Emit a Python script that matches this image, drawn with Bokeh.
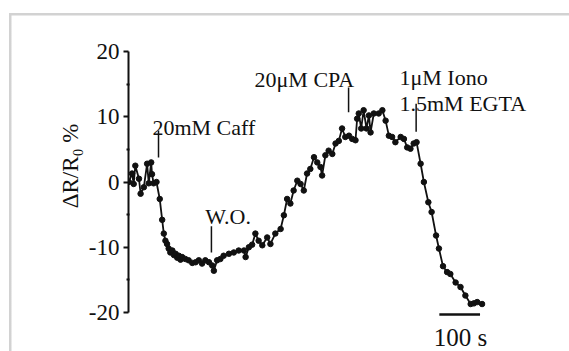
from bokeh.plotting import figure
from bokeh.models import Range1d, FixedTicker, Label, ColumnDataSource
from bokeh.embed import file_html
from bokeh.resources import INLINE

# ---- data (time in s, ΔR/R0 in %) ----
time_s = [0, 8, 12, 16, 25, 29, 37, 45, 49, 55, 57, 61, 68, 76, 82, 86, 90, 94, 98, 102,
          107, 111, 115, 119, 123, 127, 131, 139, 147, 156, 164, 172, 180, 188, 197, 205,
          209, 217, 225, 233, 246, 258, 270, 283, 287, 295, 303, 311, 319, 328, 340, 348,
          360, 373, 381, 389, 397, 405, 414, 422, 430, 438, 446, 455, 463, 471, 475, 483,
          491, 500, 508, 516, 524, 532, 541, 549, 557, 561, 565, 571, 577, 584, 590, 594,
          602, 614, 623, 631, 639, 647, 655, 668, 676, 684, 692, 700, 707, 717, 725, 736,
          744, 755, 762, 772, 782, 790, 803, 815, 827, 840, 848, 856, 868]
ratio_pct = [0.0, 1.3, -0.3, 2.5, 0.5, -1.8, -0.8, 2.8, -0.2, 3.0, 1.2, -0.2, 0.0, -2.6,
             -5.8, -7.9, -9.0, -9.5, -10.2, -10.8, -10.5, -11.2, -11.0, -11.6, -11.3, -11.9,
             -11.5, -11.8, -12.0, -12.4, -12.3, -12.0, -12.5, -12.0, -12.3, -12.8, -13.6,
             -12.0, -11.8, -11.3, -11.0, -10.8, -10.5, -10.5, -11.5, -10.0, -9.6, -7.9, -9.0,
             -9.7, -8.5, -9.5, -7.9, -7.2, -5.1, -2.6, -3.3, -1.3, 0.2, -0.3, -1.3, 1.3, 2.0,
             3.8, 3.0, 2.3, 1.0, 4.1, 4.8, 4.3, 5.9, 6.3, 8.2, 6.9, 7.1, 6.6, 6.4, 9.7, 10.5,
             8.2, 11.0, 8.2, 10.2, 7.6, 10.5, 10.5, 11.0, 9.4, 7.1, 6.9, 6.1, 6.9, 6.6, 5.3,
             5.1, 5.9, 6.1, 2.8, 0.0, -3.1, -4.6, -8.2, -10.2, -12.9, -13.8, -14.1, -15.4,
             -16.1, -17.4, -18.7, -18.6, -18.4, -18.7]

y_ticks = [-20, -10, 0, 10, 20]
y_tick_labels = ["-20", "-10", "0", "10", "20"]
y_minor_ticks = [-15, -5, 5, 15]
y_label = "ΔR/R₀ %"

event_labels = ["20mM Caff", "W.O.", "20μM CPA", "1μM Iono", "1.5mM EGTA"]
event_label_t = [58, 188, 309, 665, 665]
event_label_v = [8.35, -5.3, 15.7, 16.0, 12.0]

arrow_t = [73, 203, 540, 706]
arrow_top = [7.9, -6.8, 14.5, 12.0]
arrow_bottom = [3.75, -10.8, 10.7, 7.7]

scale_bar_t = [763, 863]
scale_bar_v = -20.3
scale_bar_label = "100 s"

FONT = "Liberation Serif"
INK = "#111111"
FRAME = "#d2d2d2"

p = figure(width=569, height=351, output_backend="svg", toolbar_location=None,
           x_range=Range1d(-0.74, 1082.8), y_range=Range1d(-25.67, 20.92),
           x_axis_location=None, y_axis_location="left",
           min_border_left=128, min_border_right=0, min_border_top=45, min_border_bottom=2)
p.grid.visible = False
p.outline_line_color = None
p.background_fill_color = None
p.border_fill_color = None
# light outer frame of the original figure, drawn behind the transparent canvas
p.styles = {
    "background-color": "white",
    "background-image": f"linear-gradient({FRAME},{FRAME}), linear-gradient({FRAME},{FRAME})",
    "background-repeat": "no-repeat",
    "background-position": "9px 13px, 9px 13px",
    "background-size": "100% 2.5px, 2.5px 100%",
}

ax = p.yaxis[0]
ax.ticker = FixedTicker(ticks=y_ticks, minor_ticks=y_minor_ticks)
ax.major_label_overrides = {t: s for t, s in zip(y_ticks, y_tick_labels)}
ax.bounds = (-20, 20)
ax.axis_line_color = INK
ax.axis_line_width = 2
ax.major_tick_line_color = INK
ax.major_tick_line_width = 2
ax.major_tick_out = 5
ax.major_tick_in = 0
ax.minor_tick_line_color = INK
ax.minor_tick_line_width = 2
ax.minor_tick_out = 2
ax.minor_tick_in = 1
ax.major_label_text_font = FONT
ax.major_label_text_font_size = "23px"
ax.major_label_text_color = INK
ax.major_label_standoff = 4
# non-breaking spaces at the start lift the label to where the original sits
ax.axis_label = "\u00a0" * 11 + y_label
ax.axis_label_text_font = FONT
ax.axis_label_text_font_size = "23px"
ax.axis_label_text_font_style = "normal"
ax.axis_label_text_color = INK
ax.axis_label_standoff = 3

src = ColumnDataSource(dict(t=time_s, v=ratio_pct))
p.line("t", "v", source=src, line_color=INK, line_width=1.8)
p.scatter("t", "v", source=src, size=5.5, color=INK)

asrc = ColumnDataSource(dict(t=arrow_t, top=arrow_top, bot=arrow_bottom))
p.segment(x0="t", y0="top", x1="t", y1="bot", source=asrc, line_color=INK, line_width=1.5)

p.segment(x0=[scale_bar_t[0]], y0=[scale_bar_v], x1=[scale_bar_t[1]], y1=[scale_bar_v],
          line_color=INK, line_width=2.5)

for txt, tx, vy in zip(event_labels, event_label_t, event_label_v):
    p.add_layout(Label(x=tx, y=vy, text=txt, text_font=FONT, text_font_size="22px",
                       text_color=INK, text_baseline="alphabetic", text_align="left"))

p.add_layout(Label(x=(scale_bar_t[0] + scale_bar_t[1]) / 2 + 2, y=-23.9, text=scale_bar_label,
                   text_font=FONT, text_font_size="25px", text_color=INK,
                   text_baseline="alphabetic", text_align="center"))

open("out.html", "w").write(file_html(p, INLINE))
